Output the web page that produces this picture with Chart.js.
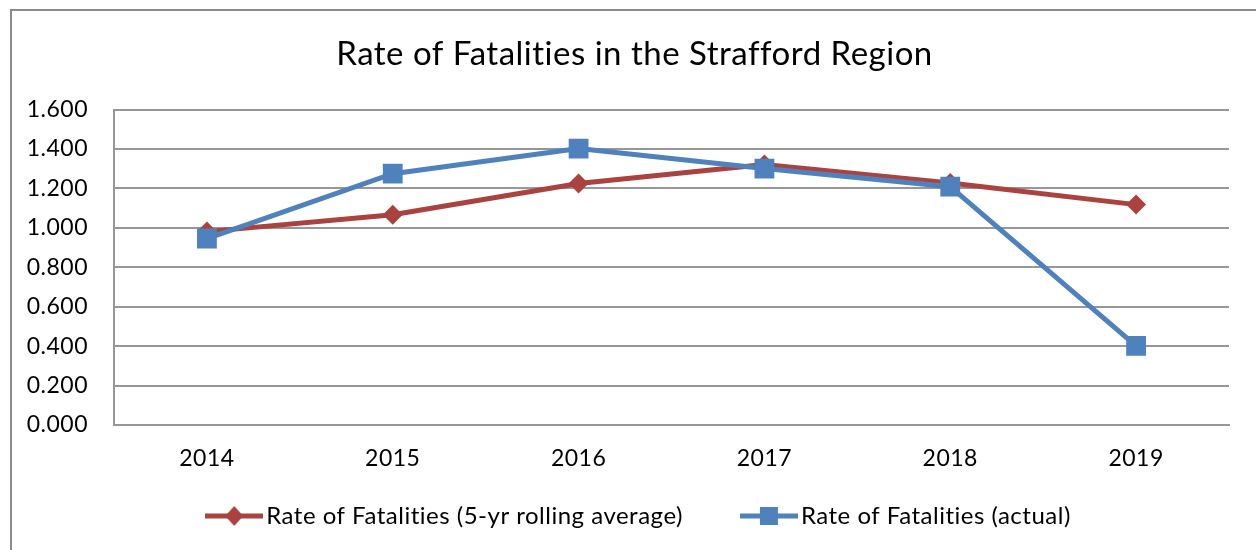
<!DOCTYPE html>
<html>
<head>
<meta charset="utf-8">
<script src="https://cdn.jsdelivr.net/npm/chart.js@4/dist/chart.umd.min.js"></script>
<style>
  html, body { margin: 0; padding: 0; background: #fff; }
  #wrap { width: 1256px; height: 550px; position: relative; }
</style>
</head>
<body>
<div id="wrap"><canvas id="c" width="1256" height="550"></canvas></div>
<script>
const categories = ['2014', '2015', '2016', '2017', '2018', '2019'];
const rollingAverage = [0.981, 1.067, 1.225, 1.321, 1.228, 1.118];
const actual = [0.946, 1.275, 1.402, 1.301, 1.209, 0.401];
const yTickLabels = ['0.000', '0.200', '0.400', '0.600', '0.800', '1.000', '1.200', '1.400', '1.600'];
const seriesNames = ['Rate of Fatalities (5-yr rolling average)', 'Rate of Fatalities (actual)'];
const chartTitle = 'Rate of Fatalities in the Strafford Region';

const RED = '#AA4340';
const BLUE = '#4F81BD';
const GRID = '#979797';
const FONT = 'Lato, Calibri, Carlito, sans-serif';
const LEGEND_BOX_HEIGHT = 77;

function legendSample(color, kind) {
  const cv = document.createElement('canvas');
  cv.width = 58; cv.height = 24;
  const g = cv.getContext('2d');
  g.strokeStyle = color; g.lineWidth = 5;
  g.beginPath(); g.moveTo(0, 12); g.lineTo(58, 12); g.stroke();
  g.fillStyle = color;
  g.beginPath();
  if (kind === 'diamond') {
    g.moveTo(29, 2); g.lineTo(38, 12); g.lineTo(29, 22); g.lineTo(20, 12); g.closePath();
  } else {
    g.rect(20, 3, 18, 18);
  }
  g.fill();
  return cv;
}
const legendImgs = [legendSample(RED, 'diamond'), legendSample(BLUE, 'square')];

const stylePlugin = {
  id: 'excelStyle',
  beforeUpdate(chart) { chart.ctx.letterSpacing = '0.5px'; },
  beforeLayout(chart) {
    chart.ctx.letterSpacing = '0.5px';
    const lg = chart.legend;
    if (lg && !lg._fitPatched) {
      const orig = lg.fit.bind(lg);
      lg.fit = function () { orig(); this.height = Math.min(this.height, LEGEND_BOX_HEIGHT); };
      lg._fitPatched = true;
    }
  },
  afterLayout(chart) {
    const lg = chart.legend;
    if (lg) {
      lg.top = 438; lg.bottom = 550;
      lg.left += 28; lg.right += 28;
    }
    const tb = chart.titleBlock;
    if (tb) { tb.left += 20; tb.right += 20; }
  },
  beforeDraw(chart) {
    const ctx = chart.ctx;
    ctx.letterSpacing = '0.5px';
    ctx.save();
    ctx.fillStyle = '#fff';
    ctx.fillRect(0, 0, chart.width, chart.height);
    ctx.strokeStyle = '#8a8a8a';
    ctx.lineWidth = 2;
    ctx.strokeRect(11, 10, 1400, 700);
    ctx.restore();
  }
};

const chart = new Chart(document.getElementById('c'), {
  type: 'line',
  data: {
    labels: categories,
    datasets: [
      {
        label: seriesNames[0],
        data: rollingAverage,
        borderColor: RED,
        backgroundColor: RED,
        borderWidth: 5,
        pointStyle: 'rectRot',
        pointRadius: 10,
        pointHoverRadius: 10,
        pointBorderWidth: 0,
        tension: 0,
        order: 1
      },
      {
        label: seriesNames[1],
        data: actual,
        borderColor: BLUE,
        backgroundColor: BLUE,
        borderWidth: 5,
        pointStyle: 'rect',
        pointRadius: 14,
        pointHoverRadius: 14,
        pointBorderWidth: 0,
        tension: 0,
        order: 0
      }
    ]
  },
  options: {
    responsive: false,
    animation: false,
    events: [],
    layout: { padding: { left: 0, right: 27, top: 12, bottom: 0 } },
    plugins: {
      title: {
        display: true,
        text: chartTitle,
        color: '#000',
        font: { family: FONT, size: 33, weight: 'normal', lineHeight: 1.2 },
        padding: { top: 23, bottom: 35 }
      },
      legend: {
        display: true,
        position: 'bottom',
        labels: {
          color: '#000',
          font: { family: FONT, size: 24 },
          usePointStyle: true,
          pointStyleWidth: 40,
          padding: 66,
          sort: (a, b) => a.datasetIndex - b.datasetIndex,
          generateLabels(chart) {
            const items = Chart.defaults.plugins.legend.labels.generateLabels(chart);
            items.forEach(it => { it.pointStyle = legendImgs[it.datasetIndex]; });
            return items;
          }
        }
      },
      tooltip: { enabled: false }
    },
    scales: {
      x: {
        type: 'category',
        offset: true,
        grid: { display: false, drawTicks: false },
        border: { display: true, color: GRID, width: 2 },
        ticks: { color: '#000', font: { family: FONT, size: 23 }, padding: 20, maxRotation: 0 },
        afterFit(scale) { scale.height = 48; }
      },
      y: {
        min: 0,
        max: 1.6,
        ticks: {
          stepSize: 0.2,
          color: '#000',
          font: { family: FONT, size: 23 },
          padding: 26,
          callback: (v, i) => yTickLabels[i]
        },
        grid: { color: GRID, lineWidth: 2, drawTicks: false },
        border: { display: true, color: GRID, width: 2 },
        afterFit(scale) { scale.width = 114; }
      }
    }
  },
  plugins: [stylePlugin]
});
chart.update();
</script>
</body>
</html>
